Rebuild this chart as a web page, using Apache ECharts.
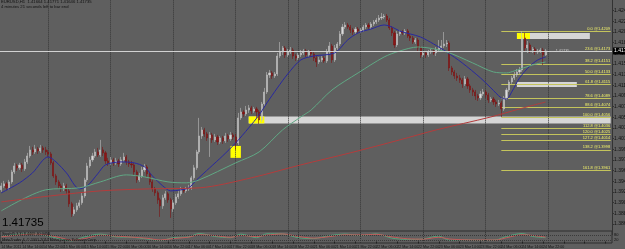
<!DOCTYPE html>
<html><head><meta charset="utf-8">
<script src="https://cdn.jsdelivr.net/npm/echarts@6/dist/echarts.min.js"></script>
<style>html,body{margin:0;padding:0;background:#5f5f5f;}#c{width:625px;height:249px;}</style>
</head><body><div id="c"></div>
<script>
// ---- EURUSD H1 bars (14 Mar 2011 06:00 .. 24 Mar 2011 23:00) ----
const opens = [1.39261,1.39332,1.39368,1.39297,1.39403,1.39581,1.39688,1.39653,1.39706,1.39635,1.39759,1.39866,1.39973,1.39937,1.39991,1.39955,1.40009,1.39973,1.39937,1.39902,1.39742,1.39510,1.39403,1.39332,1.39279,1.39332,1.39243,1.39012,1.38834,1.38905,1.38976,1.39030,1.39154,1.39439,1.39688,1.39795,1.39866,1.39937,1.39884,1.39973,1.39920,1.39777,1.39742,1.39795,1.39742,1.39777,1.39724,1.39795,1.39848,1.39759,1.39724,1.39706,1.39581,1.39439,1.39510,1.39617,1.39670,1.39546,1.39403,1.39279,1.39208,1.39083,1.38976,1.39119,1.39190,1.39083,1.38923,1.39030,1.39136,1.39190,1.39261,1.39243,1.39279,1.39297,1.39475,1.39653,1.39937,1.40222,1.40329,1.40258,1.40187,1.40240,1.40151,1.40204,1.40115,1.40187,1.40133,1.40222,1.40169,1.40240,1.40204,1.40098,1.40543,1.40649,1.40614,1.40685,1.40721,1.40667,1.40703,1.40649,1.40507,1.40792,1.41005,1.41308,1.41344,1.41290,1.41326,1.41646,1.41717,1.41789,1.41664,1.41717,1.41753,1.41646,1.41611,1.41664,1.41700,1.41735,1.41664,1.41717,1.41682,1.41611,1.41539,1.41575,1.41611,1.41557,1.41717,1.41824,1.41575,1.41789,1.41860,1.42038,1.42162,1.42198,1.42162,1.42109,1.42073,1.42127,1.42091,1.42109,1.42162,1.42198,1.42162,1.42216,1.42251,1.42287,1.42323,1.42340,1.42358,1.42287,1.42145,1.42056,1.41842,1.42038,1.42073,1.42056,1.42091,1.42002,1.41967,1.41895,1.41931,1.41789,1.41664,1.41700,1.41664,1.41717,1.41735,1.41700,1.41753,1.41789,1.41824,1.41860,1.41878,1.41433,1.41361,1.41290,1.41255,1.41219,1.41148,1.41237,1.41112,1.41041,1.41005,1.40934,1.40899,1.40970,1.41005,1.40952,1.40863,1.40881,1.40827,1.40792,1.40810,1.40703,1.40899,1.41041,1.41183,1.41255,1.41308,1.41361,1.41397,1.41967,1.41789,1.41842,1.41753,1.41771,1.41717,1.41735,1.41753,1.41664];
const closes = [1.39332,1.39368,1.39297,1.39403,1.39581,1.39688,1.39653,1.39706,1.39635,1.39759,1.39866,1.39973,1.39937,1.39991,1.39955,1.40009,1.39973,1.39937,1.39902,1.39742,1.39510,1.39403,1.39332,1.39279,1.39332,1.39243,1.39012,1.38834,1.38905,1.38976,1.39030,1.39154,1.39439,1.39688,1.39795,1.39866,1.39937,1.39884,1.39973,1.39920,1.39777,1.39742,1.39795,1.39742,1.39777,1.39724,1.39795,1.39848,1.39759,1.39724,1.39706,1.39581,1.39439,1.39510,1.39617,1.39670,1.39546,1.39403,1.39279,1.39208,1.39083,1.38976,1.39119,1.39190,1.39083,1.38923,1.39030,1.39136,1.39190,1.39261,1.39243,1.39279,1.39297,1.39475,1.39653,1.39937,1.40222,1.40329,1.40258,1.40187,1.40240,1.40151,1.40204,1.40115,1.40187,1.40133,1.40222,1.40169,1.40240,1.40204,1.40098,1.40543,1.40649,1.40614,1.40685,1.40721,1.40667,1.40703,1.40649,1.40507,1.40792,1.41005,1.41308,1.41344,1.41290,1.41326,1.41646,1.41717,1.41789,1.41664,1.41717,1.41753,1.41646,1.41611,1.41664,1.41700,1.41735,1.41664,1.41717,1.41682,1.41611,1.41539,1.41575,1.41611,1.41557,1.41717,1.41824,1.41575,1.41789,1.41860,1.42038,1.42162,1.42198,1.42162,1.42109,1.42073,1.42127,1.42091,1.42109,1.42162,1.42198,1.42162,1.42216,1.42251,1.42287,1.42323,1.42340,1.42358,1.42287,1.42145,1.42056,1.41842,1.42038,1.42073,1.42056,1.42091,1.42002,1.41967,1.41895,1.41931,1.41789,1.41664,1.41700,1.41664,1.41717,1.41735,1.41700,1.41753,1.41789,1.41824,1.41860,1.41878,1.41433,1.41361,1.41290,1.41255,1.41219,1.41148,1.41237,1.41112,1.41041,1.41005,1.40934,1.40899,1.40970,1.41005,1.40952,1.40863,1.40881,1.40827,1.40792,1.40810,1.40703,1.40899,1.41041,1.41183,1.41255,1.41308,1.41361,1.41397,1.41967,1.41789,1.41842,1.41753,1.41771,1.41717,1.41735,1.41753,1.41664,1.41735];
const lows = [1.39225,1.39297,1.39261,1.39261,1.39368,1.39546,1.39599,1.39617,1.39581,1.39599,1.39724,1.39831,1.39884,1.39902,1.39902,1.39920,1.39920,1.39884,1.39848,1.39706,1.39475,1.39350,1.39279,1.39225,1.39243,1.39190,1.38958,1.38780,1.38798,1.38869,1.38941,1.38994,1.39119,1.39403,1.39653,1.39759,1.39831,1.39848,1.39848,1.39866,1.39724,1.39688,1.39706,1.39688,1.39706,1.39670,1.39688,1.39759,1.39706,1.39670,1.39653,1.39528,1.39386,1.39403,1.39475,1.39581,1.39492,1.39350,1.39225,1.39154,1.39012,1.38780,1.38923,1.39083,1.39030,1.38763,1.38869,1.38994,1.39101,1.39154,1.39208,1.39208,1.39243,1.39261,1.39439,1.39617,1.39902,1.40169,1.40204,1.40133,1.39848,1.40098,1.40115,1.40062,1.40080,1.40080,1.40098,1.40115,1.40133,1.40151,1.39973,1.40062,1.40507,1.40560,1.40578,1.40632,1.40614,1.40632,1.40543,1.40436,1.40471,1.40756,1.40970,1.41255,1.41237,1.41255,1.41290,1.41611,1.41664,1.41611,1.41628,1.41682,1.41593,1.41557,1.41575,1.41628,1.41664,1.41628,1.41628,1.41628,1.41557,1.41450,1.41504,1.41539,1.41522,1.41522,1.41682,1.41522,1.41539,1.41753,1.41824,1.42002,1.42127,1.42127,1.42056,1.42020,1.42038,1.42056,1.42056,1.42073,1.42127,1.42127,1.42127,1.42180,1.42216,1.42251,1.42287,1.42305,1.42251,1.42109,1.42002,1.41789,1.41806,1.42002,1.42020,1.42020,1.41967,1.41913,1.41860,1.41860,1.41735,1.41611,1.41628,1.41611,1.41628,1.41682,1.41664,1.41646,1.41717,1.41753,1.41789,1.41806,1.41379,1.41308,1.41237,1.41201,1.41166,1.41077,1.41112,1.41059,1.40988,1.40934,1.40863,1.40845,1.40863,1.40934,1.40899,1.40810,1.40827,1.40774,1.40738,1.40756,1.40560,1.40667,1.40863,1.41005,1.41148,1.41219,1.41272,1.41326,1.41361,1.41735,1.41700,1.41700,1.41700,1.41664,1.41682,1.41700,1.41486,1.41646];
const highs = [1.39386,1.39421,1.39403,1.39439,1.39617,1.39742,1.39724,1.39742,1.39742,1.39813,1.39920,1.40044,1.40026,1.40062,1.40026,1.40062,1.40044,1.40026,1.39973,1.39937,1.39777,1.39546,1.39439,1.39368,1.39386,1.39368,1.39279,1.39047,1.38958,1.39030,1.39083,1.39208,1.39475,1.39742,1.39848,1.39920,1.39991,1.40009,1.40151,1.40026,1.39955,1.39831,1.39848,1.39831,1.39831,1.39813,1.39848,1.39920,1.39884,1.39795,1.39777,1.39742,1.39617,1.39564,1.39670,1.39724,1.39706,1.39581,1.39439,1.39314,1.39243,1.39119,1.39172,1.39243,1.39225,1.39119,1.39083,1.39190,1.39243,1.39314,1.39297,1.39314,1.39350,1.39510,1.39706,1.39973,1.40543,1.40382,1.40365,1.40293,1.40293,1.40276,1.40258,1.40240,1.40222,1.40222,1.40276,1.40258,1.40293,1.40276,1.40258,1.40632,1.40721,1.40685,1.40756,1.40774,1.40756,1.40738,1.40738,1.40685,1.40827,1.41077,1.41361,1.41397,1.41379,1.41361,1.41700,1.41895,1.41824,1.41824,1.41771,1.41806,1.41789,1.41682,1.41700,1.41753,1.41771,1.41771,1.41753,1.41753,1.41717,1.41646,1.41628,1.41646,1.41646,1.41771,1.41895,1.41860,1.41842,1.41895,1.42091,1.42216,1.42251,1.42234,1.42198,1.42145,1.42162,1.42162,1.42145,1.42198,1.42234,1.42234,1.42251,1.42287,1.42323,1.42376,1.42412,1.42394,1.42394,1.42323,1.42180,1.42091,1.42091,1.42109,1.42109,1.42127,1.42127,1.42038,1.42002,1.41967,1.41967,1.41824,1.41735,1.41735,1.41753,1.41771,1.41771,1.41806,1.41931,1.41931,1.42073,1.41931,1.41913,1.41468,1.41397,1.41344,1.41308,1.41255,1.41290,1.41272,1.41148,1.41077,1.41041,1.40970,1.41023,1.41059,1.41041,1.40988,1.40916,1.40916,1.40863,1.40863,1.40845,1.40934,1.41077,1.41219,1.41290,1.41361,1.41415,1.41450,1.42091,1.42056,1.41913,1.41878,1.41806,1.41806,1.41771,1.41789,1.41789,1.41771];

// moving averages: [bar index, price]
const maFast = [[0,1.39208],[7,1.39386],[12,1.39564],[18,1.39848],[21,1.39759],[25,1.39564],[30,1.39279],[33,1.39332],[37,1.39546],[40,1.39706],[46,1.39759],[51,1.39742],[55,1.39670],[58,1.39510],[62,1.39332],[65,1.39243],[69,1.39261],[72,1.39297],[75,1.39439],[80,1.39653],[85,1.39866],[90,1.40098],[95,1.40365],[99,1.40596],[102,1.40810],[106,1.41077],[110,1.41326],[115,1.41575],[120,1.41646],[128,1.41700],[133,1.41931],[137,1.42056],[142,1.42127],[147,1.42198],[150,1.42162],[153,1.42091],[157,1.42038],[161,1.41984],[166,1.41860],[171,1.41717],[177,1.41522],[184,1.41255],[188,1.41077],[192,1.40899],[194,1.40881],[196,1.41005],[199,1.41255],[203,1.41468],[206,1.41575],[209,1.41628]];
const maMid = [[0,1.38887],[17,1.39261],[30,1.39297],[38,1.39403],[48,1.39528],[55,1.39492],[64,1.39403],[71,1.39386],[76,1.39439],[90,1.39742],[99,1.39937],[108,1.40329],[115,1.40560],[119,1.40685],[127,1.41041],[137,1.41344],[147,1.41628],[153,1.41735],[160,1.41806],[171,1.41717],[181,1.41522],[189,1.41361],[194,1.41344],[197,1.41379],[204,1.41486],[209,1.41539]];
const maSlow = [[0,1.39047],[19,1.39154],[38,1.39243],[57,1.39279],[76,1.39297],[96,1.39475],[115,1.39706],[134,1.39920],[153,1.40151],[167,1.40329],[188,1.40560],[199,1.40703],[209,1.40827]];

// stochastic (5,3,3): [bar index, value]
const stochMain = [[0,60],[6,85],[12,90],[18,65],[24,20],[27,8],[32,55],[38,88],[44,55],[50,50],[56,30],[61,12],[66,45],[72,55],[76,95],[82,60],[88,45],[92,88],[98,45],[102,92],[108,90],[114,45],[120,35],[126,70],[132,88],[138,70],[144,90],[150,40],[156,25],[162,30],[168,65],[172,15],[178,20],[184,15],[190,20],[194,60],[200,95],[204,60],[209,45]];
const stochSignal = [[0,55],[6,75],[12,88],[18,75],[24,35],[27,15],[32,35],[38,75],[44,65],[50,52],[56,38],[61,18],[66,35],[72,52],[76,80],[82,70],[88,50],[92,72],[98,58],[102,75],[108,90],[114,60],[120,40],[126,58],[132,80],[138,78],[144,85],[150,55],[156,32],[162,28],[168,50],[172,30],[178,20],[184,18],[190,18],[194,45],[200,80],[204,72],[209,52]];
const stochLevels = [80, 20];

// time labels (every 8th bar) and day separators (bar index)
const timeLabels = ["14 Mar 2011","14 Mar 14:00","14 Mar 22:00","15 Mar 06:00","15 Mar 14:00","15 Mar 22:00","16 Mar 06:00","16 Mar 14:00","16 Mar 22:00","17 Mar 06:00","17 Mar 14:00","17 Mar 22:00","18 Mar 06:00","18 Mar 14:00","18 Mar 22:00","21 Mar 06:00","21 Mar 14:00","21 Mar 22:00","22 Mar 06:00","22 Mar 14:00","22 Mar 22:00","23 Mar 06:00","23 Mar 14:00","23 Mar 22:00","24 Mar 06:00","24 Mar 14:00","24 Mar 22:00"];
const separators = [18, 42, 66, 90, 110, 114, 138, 162, 186, 210];
const totalSlots = 235; // bars + chart shift

// Fibonacci retracement (anchor bar 192 low -> bar 200 high)
const fibRatios = [0, 23.6, 38.2, 50.0, 61.8, 78.6, 88.6, 100.0, 112.8, 120.0, 127.2, 138.2, 161.8];
const fibPrices = [1.42091, 1.41730, 1.41506, 1.41326, 1.41145, 1.40888, 1.40735, 1.40560, 1.40364, 1.40254, 1.40144, 1.39975, 1.39614];
const fibFromBar = 192, fibToBar = 234;

// rectangles: [fromBar, toBar, topPrice, bottomPrice]
const greyZones = [[198, 226, 1.42056, 1.41949], [198, 221, 1.41183, 1.41094], [95, 234, 1.40569, 1.40445]];
const yellowBoxes = [[198, 203, 1.42056, 1.41949], [95, 101, 1.40569, 1.40445], [88, 92, 1.40044, 1.39831]];

const bid = 1.41735;
const header = ["EURUSD,H1  1.41664 1.41771 1.41646 1.41735", "4 minutes 21 seconds left to bar end"];
const stochTexts = ["Stoch(5,3,3) 8.4469 40.0456", "MetaTrader 4, \u00a9 2001-2010 MetaQuotes Software Corp."];

// ---- chart ----
const cats = Array.from({length: totalSlots}, (_, i) => String(i));
const candleData = opens.map((o, i) => [o, closes[i], lows[i], highs[i]]);
const sepLines = separators.map(s => ({xAxis: s}));
const BG = '#5f5f5f';

const chart = echarts.init(document.getElementById('c'), null, {renderer: 'canvas'});
chart.setOption({
  animation: false,
  backgroundColor: BG,
  title: [
    {text: header[0], left: 1, top: 0, padding: 0, textStyle: {fontSize: 4.2, color: '#111', fontWeight: 'normal', fontFamily: 'Liberation Sans'}},
    {text: header[1], left: 1, top: 5, padding: 0, textStyle: {fontSize: 4.2, color: '#111', fontWeight: 'normal', fontFamily: 'Liberation Sans'}},
    {text: bid.toFixed(5), left: 2, top: 217, padding: 0, textStyle: {fontSize: 11.5, color: '#000', fontWeight: 'normal', fontFamily: 'Liberation Sans'}},
    {text: stochTexts[0], left: 2, top: 232, padding: 0, textStyle: {fontSize: 3.8, color: '#111', fontWeight: 'normal', fontFamily: 'Liberation Sans'}},
    {text: stochTexts[1], left: 2, top: 237.5, padding: 0, textStyle: {fontSize: 3.8, color: '#111', fontWeight: 'normal', fontFamily: 'Liberation Sans'}}
  ],
  grid: [
    {left: 0, top: 0, width: 612, height: 234.67, show: false, outerBoundsMode: 'none'},
    {left: 0, top: 231, width: 612, height: 12, show: true, backgroundColor: BG, borderColor: '#2e2e2e', borderWidth: 1, outerBoundsMode: 'none'}
  ],
  xAxis: [
    {type: 'category', gridIndex: 0, data: cats, boundaryGap: true, show: false},
    {type: 'category', gridIndex: 1, data: cats, boundaryGap: true,
     axisLine: {show: false},
     axisTick: {show: true, interval: 7, alignWithLabel: true, length: 2, lineStyle: {color: '#222'}},
     axisLabel: {interval: 7, align: 'left', margin: 2, fontSize: 3.6, color: '#111', fontFamily: 'Liberation Sans',
       formatter: (v, idx) => (timeLabels[idx / 8] || '')},
     splitLine: {show: false}}
  ],
  yAxis: [
    {type: 'value', gridIndex: 0, position: 'right', min: 1.38463, max: 1.42643, interval: 0.0019, scale: true,
     splitLine: {show: false},
     axisLine: {show: true, lineStyle: {color: '#333'}},
     axisTick: {show: true, length: 2, lineStyle: {color: '#333'}},
     axisLabel: {show: true, margin: 2, fontSize: 5, color: '#111', fontFamily: 'Liberation Sans', showMinLabel: false, showMaxLabel: false,
       formatter: v => v.toFixed(5)}},
    {type: 'value', gridIndex: 1, min: -18, max: 125, show: false, splitLine: {show: false}}
  ],
  series: [
    {type: 'line', name: 'zones', xAxisIndex: 0, yAxisIndex: 0, data: [], z: 1, silent: true,
     markArea: {silent: true, z: 1,
       data: greyZones.map(r => [{coord: [r[0], r[2]], itemStyle: {color: '#d6d6d6', opacity: 1}}, {coord: [r[1], r[3]]}])
         .concat(yellowBoxes.map(r => [{coord: [r[0], r[2]], itemStyle: {color: '#ffff00', opacity: 1}}, {coord: [r[1], r[3]]}]))},
     markLine: {silent: true, symbol: ['none', 'none'], z: 2,
       data: sepLines.map(s => Object.assign({}, s, {lineStyle: {color: '#363636', width: 1, type: 'dotted'}, label: {show: false}}))}},
    {type: 'line', name: 'fib', xAxisIndex: 0, yAxisIndex: 0, data: [], z: 2, silent: true,
     markLine: {silent: true, symbol: ['none', 'none'], z: 2, precision: 5,
       lineStyle: {color: '#c4c45c', width: 1, type: 'solid'},
       label: {show: true, position: 'insideEndTop', formatter: '{b}', color: '#f2f26a', fontSize: 4, distance: 0.5, fontFamily: 'Liberation Sans'},
       emphasis: {disabled: true},
       data: fibRatios.map((r, k) => [{name: r.toFixed(1) + ' @' + fibPrices[k].toFixed(4), coord: [fibFromBar, fibPrices[k]]}, {coord: [fibToBar, fibPrices[k]]}])}},
    {type: 'line', name: 'bid', xAxisIndex: 0, yAxisIndex: 0, data: [], z: 5, silent: true,
     markLine: {silent: true, symbol: ['none', 'none'], z: 5, precision: 5,
       data: [{yAxis: bid, lineStyle: {color: '#d2d2d2', width: 1, type: 'solid'},
         label: {show: true, position: 'end', distance: 1, formatter: bid.toFixed(5), backgroundColor: '#000', color: '#fff', fontSize: 5, padding: [1, 2, 1, 1]}}]}},
    {type: 'candlestick', name: 'EURUSD', xAxisIndex: 0, yAxisIndex: 0, data: candleData, z: 3, barWidth: 1.6,
     itemStyle: {color: '#dcdcdc', color0: '#8b1616', borderColor: '#bcbcbc', borderColor0: '#7c1212', borderWidth: 0.6},
     markPoint: {silent: true, symbol: 'circle', symbolSize: 0,
       data: [{coord: [211, bid], label: {show: true, position: 'right', formatter: '\u2190 ' + bid.toFixed(5), fontSize: 3.8, color: '#c8c8c8', distance: 0}}]}},
    {type: 'line', name: 'MA fast', xAxisIndex: 0, yAxisIndex: 0, data: maFast, showSymbol: false, smooth: 0.3, z: 4,
     lineStyle: {color: '#2828a0', width: 1}},
    {type: 'line', name: 'MA mid', xAxisIndex: 0, yAxisIndex: 0, data: maMid, showSymbol: false, smooth: 0.3, z: 4,
     lineStyle: {color: '#5fa884', width: 1}},
    {type: 'line', name: 'MA slow', xAxisIndex: 0, yAxisIndex: 0, data: maSlow, showSymbol: false, smooth: 0.3, z: 4,
     lineStyle: {color: '#b43c3c', width: 1}},
    {type: 'line', name: 'Stoch main', xAxisIndex: 1, yAxisIndex: 1, data: stochMain, showSymbol: false, smooth: 0.3, z: 4,
     lineStyle: {color: '#52a67c', width: 1},
     markLine: {silent: true, symbol: ['none', 'none'],
       data: stochLevels.map(v => ({yAxis: v, lineStyle: {color: '#3a3a3a', width: 1, type: 'dotted'},
         label: {show: true, position: 'end', distance: 2, formatter: String(v), fontSize: 4, color: '#111'}}))
         .concat(sepLines.map(s => Object.assign({}, s, {lineStyle: {color: '#363636', width: 1, type: 'dotted'}, label: {show: false}})))}},
    {type: 'line', name: 'Stoch signal', xAxisIndex: 1, yAxisIndex: 1, data: stochSignal, showSymbol: false, smooth: 0.3, z: 4,
     lineStyle: {color: '#c45a5a', width: 1}}
  ]
});
</script>
</body></html>
